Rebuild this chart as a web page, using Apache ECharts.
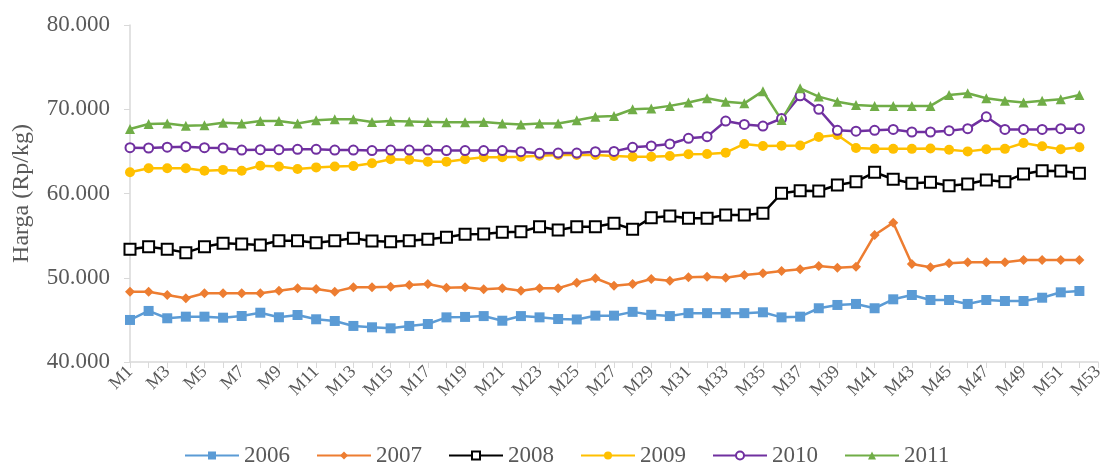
<!DOCTYPE html>
<html>
<head>
<meta charset="utf-8">
<script src="https://cdn.jsdelivr.net/npm/echarts@6/dist/echarts.min.js"></script>
<style>
html, body { margin: 0; padding: 0; background: #fff; }
#main { width: 1109px; height: 468px; }
</style>
</head>
<body>
<div id="main"></div>
<script>
// kategori minggu M1..M53
var weeks = [];
for (var i = 1; i <= 53; i++) weeks.push('M' + i);

var years = ['2006', '2007', '2008', '2009', '2010', '2011'];

var d2006 = [44990, 46060, 45190, 45380, 45380, 45260, 45460, 45850, 45310, 45580, 45070, 44870, 44280, 44120, 44000, 44280, 44510, 45300,
    45350, 45450, 44900, 45450, 45300, 45100, 45050, 45500, 45500, 45950, 45600, 45450, 45800, 45800, 45800, 45800, 45900,
    45300, 45380, 46380, 46770, 46890, 46380, 47440, 47950, 47360, 47360, 46890, 47360, 47240, 47240, 47630, 48270, 48430];

var d2007 = [48350, 48350, 47950, 47560, 48160, 48160, 48160, 48160, 48460, 48750, 48670, 48350, 48870, 48870, 48940, 49140, 49260, 48820,
    48870, 48630, 48750, 48460, 48750, 48750, 49420, 49940, 49060, 49260, 49850, 49650, 50060, 50130, 50010, 50330, 50530,
    50800, 51000, 51400, 51190, 51310, 55080, 56540, 51630, 51240, 51720, 51840, 51840, 51840, 52110, 52110, 52110, 52110];

var d2008 = [53380, 53690, 53380, 52980, 53690, 54090, 54010, 53890, 54400, 54400, 54160, 54400, 54680, 54360, 54280, 54400, 54570, 54800,
    55160, 55190, 55400, 55470, 56060, 55670, 56060, 56060, 56460, 55750, 57130, 57330, 57060, 57060, 57450, 57450, 57650,
    60030, 60330, 60300, 61010, 61400, 62520, 61690, 61210, 61330, 60930, 61130, 61600, 61400, 62320, 62710, 62670, 62400];

var d2009 = [62520, 63000, 63000, 63000, 62700, 62800, 62700, 63300, 63200, 62900, 63100, 63200, 63260, 63600, 64060, 64000,
    63780, 63780, 64060, 64300, 64300, 64370, 64490, 64570, 64570, 64570, 64450, 64370, 64370, 64450, 64650, 64690, 64850,
    65880, 65640, 65680, 65700, 66700, 66950, 65400, 65300, 65300, 65300, 65350, 65200, 65000, 65250, 65300, 66000, 65600, 65250, 65500];

var d2010 = [65440, 65400, 65500, 65560, 65440, 65400, 65160, 65200, 65200, 65250, 65250, 65160, 65160, 65100, 65160, 65160, 65160, 65100,
    65100, 65100, 65100, 64960, 64770, 64800, 64800, 64960, 65000, 65480, 65640, 65880, 66550, 66750,
    68600, 68200, 68000, 68900, 71600, 70000, 67500, 67400, 67500, 67600, 67300, 67300, 67450, 67700, 69100, 67600, 67600, 67600, 67700, 67700];

var d2011 = [67660, 68250, 68300, 68050, 68100, 68400, 68300, 68600, 68600, 68300, 68700, 68800, 68800, 68500, 68600, 68550, 68500, 68450,
    68450, 68500, 68300, 68200, 68300, 68300, 68700, 69100, 69200, 70000, 70100, 70400, 70800, 71300, 70900, 70700, 72150,
    68720, 72490, 71500, 70900, 70500, 70400, 70400, 70400, 70400, 71700, 71900, 71300, 71000, 70800, 71000, 71200, 71700];

var serif = 'Liberation Serif';
var grey = '#595959';

function dotThousands(v) {
    return String(v).replace(/\B(?=(\d{3})+(?!\d))/g, '.');
}

function lineSeries(name, data, color, symbol, size, hollow) {
    return {
        name: name,
        type: 'line',
        data: data,
        symbol: symbol,
        symbolSize: size,
        showAllSymbol: true,
        lineStyle: { color: color, width: 2.5 },
        itemStyle: hollow
            ? { color: '#fff', borderColor: color, borderWidth: 2 }
            : { color: color }
    };
}

var myChart = echarts.init(document.getElementById('main'));

var option = {
    animation: false,
    grid: { left: 130, right: 11, top: 25, bottom: 106 },
    legend: {
        data: years,
        left: 184,
        top: 444,
        padding: 0,
        itemWidth: 54,
        itemHeight: 10,
        itemGap: 26,
        textStyle: { fontFamily: serif, fontSize: 23, color: grey }
    },
    xAxis: {
        type: 'category',
        data: weeks,
        boundaryGap: false,
        axisLine: { lineStyle: { color: '#d9d9d9', width: 1.5 } },
        axisTick: { show: true, interval: 0, length: 6, lineStyle: { color: '#d9d9d9' } },
        axisLabel: { interval: 1, rotate: 45, fontFamily: serif, fontSize: 18, color: grey, margin: 7 },
        splitLine: { show: false }
    },
    yAxis: {
        type: 'value',
        min: 40000,
        max: 80000,
        interval: 10000,
        name: 'Harga (Rp/kg)',
        nameLocation: 'middle',
        nameGap: 96,
        nameTextStyle: { fontFamily: serif, fontSize: 24, color: grey },
        axisLine: { show: true, lineStyle: { color: '#d9d9d9', width: 1.5 } },
        axisTick: { show: true, length: 6, lineStyle: { color: '#d9d9d9' } },
        axisLabel: { fontFamily: serif, fontSize: 23, color: grey, margin: 20, formatter: dotThousands },
        splitLine: { show: false }
    },
    series: [
        lineSeries('2006', d2006, '#5b9bd5', 'rect', 10, false),
        lineSeries('2007', d2007, '#ed7d31', 'diamond', 10, false),
        lineSeries('2008', d2008, '#000000', 'rect', 11, true),
        lineSeries('2009', d2009, '#ffc000', 'circle', 10, false),
        lineSeries('2010', d2010, '#7030a0', 'circle', 9, true),
        lineSeries('2011', d2011, '#70ad47', 'triangle', 10, false)
    ]
};

myChart.setOption(option);
</script>
</body>
</html>
